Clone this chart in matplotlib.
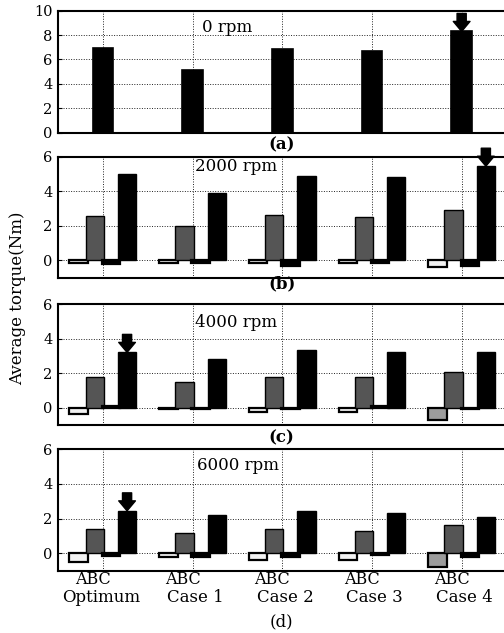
import matplotlib
matplotlib.use("Agg")
import matplotlib.pyplot as plt
from matplotlib.transforms import blended_transform_factory

# ---- data ----
cases = ["Optimum", "Case 1", "Case 2", "Case 3", "Case 4"]
speeds = ["0 rpm", "2000 rpm", "4000 rpm", "6000 rpm"]
panel_tags = ["(a)", "(b)", "(c)", "(d)"]

total_0 = [6.95, 5.1, 6.85, 6.7, 8.3]

phase_a_2000 = [-0.15, -0.15, -0.15, -0.15, -0.4]
phase_b_2000 = [2.55, 2.0, 2.6, 2.5, 2.9]
phase_c_2000 = [-0.2, -0.15, -0.35, -0.15, -0.3]
total_2000 = [5.0, 3.9, 4.9, 4.8, 5.45]

phase_a_4000 = [-0.35, -0.1, -0.25, -0.25, -0.7]
phase_b_4000 = [1.8, 1.5, 1.8, 1.75, 2.05]
phase_c_4000 = [0.1, -0.05, -0.05, 0.1, -0.05]
total_4000 = [3.2, 2.8, 3.35, 3.2, 3.2]

phase_a_6000 = [-0.5, -0.2, -0.4, -0.4, -0.8]
phase_b_6000 = [1.4, 1.2, 1.4, 1.3, 1.65]
phase_c_6000 = [-0.15, -0.2, -0.2, -0.1, -0.2]
total_6000 = [2.45, 2.2, 2.45, 2.3, 2.1]

best_case = [4, 4, 0, 0]          # arrow marks the best case in each panel

# ---- layout (pixels in a 504x633 canvas) ----
W, H = 504, 633
boxes = [(10.7, 132.7), (156.7, 277.7), (304, 425), (449.3, 570.7)]   # top, bottom
left_px, right_px = 58, 506.5

plt.rcParams["font.family"] = ["DejaVu Serif"]
fig = plt.figure(figsize=(W / 100, H / 100), dpi=100)

phases = [None,
          (phase_a_2000, phase_b_2000, phase_c_2000, total_2000),
          (phase_a_4000, phase_b_4000, phase_c_4000, total_4000),
          (phase_a_6000, phase_b_6000, phase_c_6000, total_6000)]
dark_a = {(2, 4), (3, 4)}
step, bw = 0.18, 0.205
xs = list(range(1, len(cases) + 1))

axes = []
for p, (top, bot) in enumerate(boxes):
    ax = fig.add_axes([left_px / W, 1 - bot / H, (right_px - left_px) / W, (bot - top) / H])
    axes.append(ax)
    ax.set_axisbelow(True)
    if p == 0:
        ax.bar(xs, total_0, width=0.23, color="k", edgecolor="k", lw=1.2)
        tops = total_0
        ax.set_ylim(0, 10)
        ax.set_yticks(range(0, 11, 2))
        xbest = xs[best_case[p]]
    else:
        a, b, c, t = phases[p]
        for i, x in enumerate(xs):
            fa = "#9c9c9c" if (p, i) in dark_a else "#f2f2f2"
            ax.bar(x - 1.5 * step, a[i], width=bw, color=fa, edgecolor="k", lw=1.6)
        ax.bar([x - 0.5 * step for x in xs], b, width=bw, color="#555555", edgecolor="k", lw=1.0)
        ax.bar([x + 0.5 * step for x in xs], c, width=bw, color="k", edgecolor="k", lw=1.6)
        ax.bar([x + 1.5 * step for x in xs], t, width=bw, color="k", edgecolor="k", lw=1.0)
        tops = t
        ax.set_ylim(-1, 6)
        ax.set_yticks(range(0, 7, 2))
        xbest = xs[best_case[p]] + 1.5 * step
    ax.set_xlim(0.5, 5.5)
    ax.set_xticks(xs)
    ax.set_xticklabels([])
    ax.grid(True, color="#222222", ls=(0, (1, 1.6)), lw=0.7)
    ax.tick_params(axis="y", direction="in", length=3, labelsize=10.5, pad=4)
    ax.tick_params(axis="x", length=0)
    for s in ax.spines.values():
        s.set_linewidth(1.5)
    # block arrow pointing at the best configuration
    ax.annotate("", xy=(xbest, tops[best_case[p]]), xytext=(0, 18), textcoords="offset pixels",
                arrowprops=dict(arrowstyle="simple,head_length=0.6,head_width=1.0,tail_width=0.55",
                                fc="k", ec="k", mutation_scale=12, shrinkA=0, shrinkB=0),
                annotation_clip=False)

# speed labels inside panels
speed_pos = [(201.7, 31.7), (195, 170.7), (195, 326.7), (196.7, 470)]
for s, (x, y) in zip(speeds, speed_pos):
    fig.text(x / W, 1 - y / H, s, fontsize=12, ha="left", va="baseline")

# panel tags
tag_y = [145, 284, 437.5, 621.7]
for i, (tag, y) in enumerate(zip(panel_tags, tag_y)):
    fig.text(281.7 / W, 1 - y / H, tag, fontsize=12, ha="center", va="center",
             fontweight="bold" if i < 3 else "normal")

# category labels under the last panel
tr = blended_transform_factory(axes[3].transData, fig.transFigure)
for i, (x, name) in enumerate(zip(xs, cases)):
    axes[3].text(x - 0.11, 1 - 580 / H, "ABC", transform=tr, fontsize=11.5,
                 ha="center", va="center")
    axes[3].text(x + (-0.02 if i == 0 else 0.03), 1 - 597.5 / H, name, transform=tr,
                 fontsize=12, ha="center", va="center")

fig.text(18 / W, 1 - 298 / H, "Average torque(Nm)", rotation=90, fontsize=12,
         ha="center", va="center")

fig.savefig("out.png", dpi=100)
